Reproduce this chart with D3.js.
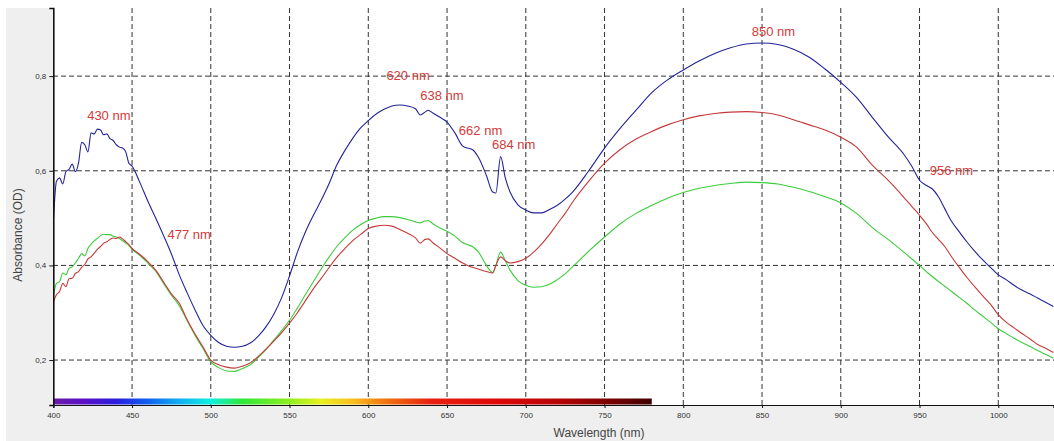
<!DOCTYPE html>
<html>
<head>
	<meta charset="utf-8">
	<title>Absorbance spectrum</title>
	<script src="https://d3js.org/d3.v7.min.js"></script>
	<style>
		body { margin: 0; background: #fff; }
		text { font-family: "Liberation Sans", Arial, sans-serif; }
	</style>
</head>
<body>
<div id="chart"></div>
<script type="text/javascript">
// wavelengths (nm) shared by the three spectra
var wavelengths = [400,402,404,406,408,410,412,414,416,418,420,422,424,426,428,430,432,434,436,438,440,442,444,446,448,450,
	455,460,465,470,475,480,485,490,495,500,505,510,515,520,525,530,535,540,545,550,555,560,565,570,575,580,585,590,595,600,605,610,615,620,625,630,
	633,636,638,641,645,650,655,660,663,666,670,675,679,681,684,687,690,695,700,705,710,715,720,725,730,740,750,760,770,780,790,800,
	810,820,830,840,850,860,870,880,890,900,910,920,930,940,945,950,955,958,962,966,970,975,980,985,990,995,1000,1005,1010,1015,1020,1025,1030,1035];

var blueSeries = [0.49,0.578,0.585,0.572,0.598,0.603,0.614,0.598,0.616,0.660,0.655,0.640,0.680,0.678,0.688,0.686,0.676,0.678,0.668,0.664,0.655,0.650,0.648,0.640,0.616,0.610,
	0.575,0.536,0.500,0.463,0.424,0.380,0.342,0.306,0.273,0.252,0.237,0.229,0.227,0.229,0.236,0.250,0.270,0.297,0.332,0.378,0.428,0.470,0.505,0.537,0.572,0.612,0.642,0.668,0.690,0.706,0.720,0.730,0.737,0.739,0.737,0.731,
	0.718,0.724,0.728,0.722,0.714,0.703,0.680,0.652,0.648,0.645,0.628,0.590,0.555,0.553,0.630,0.585,0.555,0.528,0.517,0.511,0.511,0.518,0.527,0.540,0.556,0.600,0.648,0.690,0.728,0.765,0.792,0.813,
	0.832,0.848,0.860,0.868,0.870,0.867,0.857,0.840,0.815,0.787,0.755,0.713,0.672,0.635,0.610,0.580,0.568,0.562,0.545,0.520,0.495,0.472,0.450,0.430,0.412,0.396,0.380,0.370,0.358,0.348,0.340,0.331,0.322,0.313];

var redSeries = [0.322,0.338,0.345,0.362,0.355,0.372,0.373,0.383,0.387,0.396,0.402,0.414,0.418,0.426,0.434,0.440,0.447,0.450,0.455,0.458,0.457,0.460,0.456,0.450,0.444,0.436,
	0.423,0.408,0.390,0.365,0.340,0.320,0.285,0.255,0.228,0.200,0.190,0.185,0.183,0.187,0.194,0.207,0.223,0.240,0.258,0.278,0.300,0.325,0.350,0.372,0.395,0.417,0.435,0.452,0.465,0.478,0.483,0.485,0.483,0.476,0.468,0.458,
	0.447,0.455,0.456,0.448,0.438,0.425,0.415,0.405,0.400,0.396,0.392,0.387,0.384,0.400,0.418,0.410,0.405,0.408,0.415,0.428,0.445,0.465,0.488,0.510,0.535,0.578,0.616,0.645,0.667,0.683,0.697,0.708,
	0.716,0.721,0.724,0.725,0.723,0.718,0.708,0.697,0.686,0.671,0.650,0.612,0.580,0.544,0.525,0.506,0.485,0.470,0.455,0.440,0.420,0.397,0.375,0.355,0.336,0.318,0.296,0.280,0.268,0.256,0.245,0.233,0.225,0.216];

var greenSeries = [0.335,0.362,0.366,0.384,0.380,0.394,0.397,0.405,0.415,0.425,0.420,0.436,0.445,0.452,0.457,0.463,0.466,0.465,0.465,0.462,0.460,0.457,0.452,0.447,0.442,0.434,
	0.421,0.405,0.388,0.362,0.337,0.315,0.283,0.252,0.225,0.196,0.184,0.177,0.176,0.182,0.190,0.205,0.222,0.242,0.262,0.284,0.310,0.338,0.365,0.392,0.417,0.440,0.458,0.474,0.486,0.495,0.500,0.503,0.503,0.501,0.497,0.492,
	0.490,0.494,0.495,0.488,0.480,0.472,0.462,0.448,0.444,0.440,0.428,0.400,0.385,0.400,0.428,0.410,0.390,0.368,0.358,0.354,0.355,0.360,0.370,0.382,0.398,0.430,0.460,0.488,0.510,0.527,0.542,0.554,
	0.563,0.569,0.573,0.576,0.575,0.572,0.565,0.556,0.545,0.532,0.510,0.480,0.455,0.428,0.414,0.400,0.385,0.377,0.366,0.356,0.346,0.333,0.320,0.306,0.293,0.280,0.266,0.256,0.246,0.237,0.229,0.220,0.212,0.204];

var xTicks = [400,450,500,550,600,650,700,750,800,850,900,950,1000];
var yTicks = [0.2,0.4,0.6,0.8];

var peakLabels = ['430 nm','477 nm','620 nm','638 nm','662 nm','684 nm','850 nm','956 nm'];
// label anchor: wavelength of left edge and absorbance of baseline
var peakLabelX = [421.5,472.5,611.5,633,657.5,678.5,843.5,956.5];
var peakLabelY = [0.708,0.455,0.792,0.750,0.676,0.645,0.885,0.592];

// visible spectrum bar colours (nm -> colour)
var spectrumNm = [400,420,440,460,480,500,520,550,570,590,610,640,680,720,750,780];
var spectrumCol = ['#6a1aa8','#5a10c8','#2a1ee0','#1060f0','#10b0f0','#10f0e0','#30e838','#90ee20','#e8f020','#f8c020','#f07810','#e82010','#e00808','#b80404','#800000','#400000'];

var seriesColours = {blue:'#23239a', red:'#c43a3a', green:'#3ccc3c'};

var width = 1054, height = 441;
var margin = {top: 8, left: 53, bottom: 36, right: 0};

var svg = d3.select('#chart')
	.append('svg')
		.attr('width', width)
		.attr('height', height);

// grey panel and white plot area
svg.append('rect').attr('x', 6).attr('y', 8).attr('width', width - 6).attr('height', height - 8).attr('fill', '#efefef');
svg.append('rect').attr('x', margin.left).attr('y', margin.top)
	.attr('width', width - margin.left - margin.right).attr('height', height - margin.top - margin.bottom)
	.attr('fill', '#fff');

var x = d3.scaleLinear().domain([400, 1035]).range([53.3, 1053.4]);
var y = d3.scaleLinear().domain([0.105, 0.944]).range([405, 8]);

svg.append('defs').append('clipPath').attr('id', 'plotclip')
	.append('rect').attr('x', margin.left).attr('y', margin.top)
	.attr('width', width - margin.left).attr('height', 405 - margin.top);

// grid
var grid = svg.append('g');
grid.selectAll('line.v').data(xTicks.slice(1)).enter().append('line')
	.attr('x1', d => x(d)).attr('x2', d => x(d))
	.attr('y1', 8).attr('y2', 405)
	.attr('stroke', '#333').attr('stroke-width', 1).attr('stroke-dasharray', '5,3');
grid.selectAll('line.h').data(yTicks).enter().append('line')
	.attr('x1', 53).attr('x2', width)
	.attr('y1', d => y(d)).attr('y2', d => y(d))
	.attr('stroke', '#333').attr('stroke-width', 1).attr('stroke-dasharray', '5,3');

// spectrum bar
var grad = svg.select('defs').append('linearGradient').attr('id', 'spectrum')
	.attr('x1', '0%').attr('x2', '100%');
grad.selectAll('stop').data(spectrumNm).enter().append('stop')
	.attr('offset', d => ((d - 400) / (780 - 400) * 100) + '%')
	.attr('stop-color', (d, i) => spectrumCol[i]);
svg.append('rect')
	.attr('x', x(400)).attr('y', 398.5)
	.attr('width', x(780) - x(400)).attr('height', 6)
	.attr('fill', 'url(#spectrum)');

// spectra
var line = d3.line()
	.x((d, i) => x(wavelengths[i]))
	.y(d => y(d))
	.curve(d3.curveMonotoneX);
var plot = svg.append('g').attr('clip-path', 'url(#plotclip)');
[['green', greenSeries], ['red', redSeries], ['blue', blueSeries]].forEach(function(s){
	plot.append('path')
		.datum(s[1])
		.attr('d', line)
		.attr('fill', 'none')
		.attr('stroke', seriesColours[s[0]])
		.attr('stroke-width', 1.1)
		.attr('stroke-linejoin', 'round');
});

// axes
var xAxis = d3.axisBottom(x).tickValues(xTicks).tickSize(3).tickFormat(d3.format('d'));
var gx = svg.append('g').attr('transform', 'translate(0,405)').call(xAxis);
gx.select('.domain').attr('stroke', '#111').attr('stroke-width', 1.2);
gx.selectAll('.tick line').attr('stroke', '#111');
gx.selectAll('.tick text').attr('font-size', 8).attr('fill', '#333').attr('dy', '0.9em')
	.attr('font-family', '"Liberation Sans", Arial, sans-serif');

var yAxis = d3.axisLeft(y).tickValues(yTicks).tickSize(4)
	.tickFormat(d => d3.format('.1f')(d).replace('.', ','));
var gy = svg.append('g').attr('transform', 'translate(53.3,0)').call(yAxis);
gy.select('.domain').attr('stroke', '#111').attr('stroke-width', 1.6);
gy.selectAll('.tick line').attr('stroke', '#111');
gy.selectAll('.tick text').attr('font-size', 8).attr('fill', '#333').attr('x', -7)
	.attr('font-family', '"Liberation Sans", Arial, sans-serif');

svg.append('text')
	.attr('x', 599).attr('y', 437)
	.attr('text-anchor', 'middle')
	.attr('font-size', 12).attr('fill', '#444')
	.text('Wavelength (nm)');

svg.append('text')
	.attr('transform', 'translate(22,235) rotate(-90)')
	.attr('text-anchor', 'middle')
	.attr('font-size', 12).attr('fill', '#444')
	.text('Absorbance (OD)');

// peak annotations
svg.append('g').selectAll('text').data(peakLabels).enter().append('text')
	.attr('x', (d, i) => x(peakLabelX[i]))
	.attr('y', (d, i) => y(peakLabelY[i]))
	.attr('font-size', 13)
	.attr('fill', '#d43a3a')
	.text(d => d);
</script>
</body>
</html>
